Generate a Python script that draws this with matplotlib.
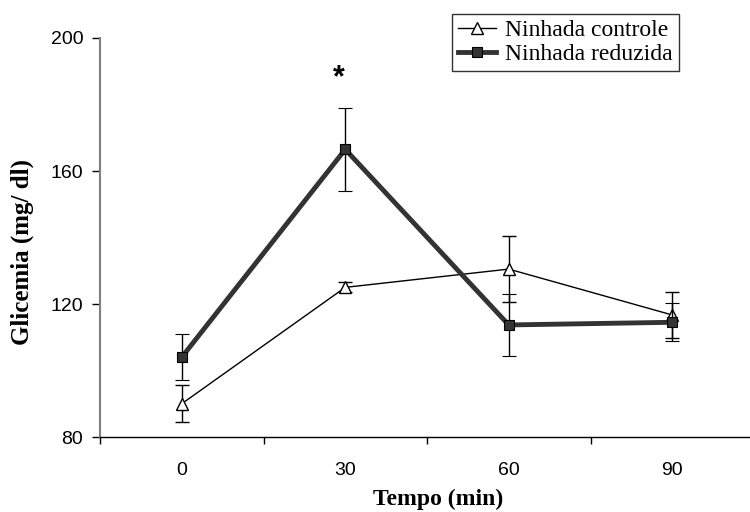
import matplotlib
matplotlib.use('Agg')
import matplotlib.pyplot as plt
from matplotlib.lines import Line2D
import numpy as np

# glicemia ao longo do teste de tolerância à glicose
tempos = ['0', '30', '60', '90']
controle_media = [90.0, 125.0, 130.5, 116.7]
controle_erro = [5.5, 1.5, 10.0, 7.0]
reduzida_media = [104.0, 166.5, 113.7, 114.5]
reduzida_erro = [7.0, 12.5, 9.3, 5.7]

serif = ['Liberation Serif', 'DejaVu Serif']
sans = ['Liberation Sans', 'DejaVu Sans']

fig = plt.figure(figsize=(7.5, 5.12), dpi=100)
ax = fig.add_axes([100 / 750, 75 / 512, 654 / 750, 399 / 512])

x = np.arange(len(tempos))

estilo_controle = dict(color='black', lw=1, marker='^', ms=8,
                       mfc='white', mec='black', mew=1)
estilo_reduzida = dict(color='#333333', lw=3.5, marker='s', ms=7,
                       mfc='#333333', mec='black', mew=0.8)

ax.errorbar(x, controle_media, yerr=controle_erro, ecolor='black',
            elinewidth=1, capsize=5, capthick=1, zorder=3, **estilo_controle)
ax.errorbar(x, reduzida_media, yerr=reduzida_erro, ecolor='black',
            elinewidth=1, capsize=5, capthick=1, zorder=4, **estilo_reduzida)

# diferença significativa aos 30 min
ax.text(0.96, 188, '*', ha='center', va='center', fontsize=22,
        fontweight='bold', family=sans)

ax.set_xlim(-0.5, len(tempos) - 0.5)
ax.set_ylim(80, 200)
ax.set_yticks([80, 120, 160, 200])
ax.set_yticklabels(['80', '120', '160', '200'], family=sans, fontsize=14)

# marcas entre categorias, rótulos no centro
ax.set_xticks(np.arange(-0.5, len(tempos) + 0.5, 1.0))
ax.set_xticklabels([])
ax.set_xticks(x, minor=True)
ax.set_xticklabels(tempos, minor=True, family=sans, fontsize=14)
ax.tick_params(axis='x', which='major', direction='out', length=5, width=1)
ax.tick_params(axis='x', which='minor', length=0, pad=18)
ax.tick_params(axis='y', direction='out', length=6, width=1, pad=6)

for side in ['top', 'right']:
    ax.spines[side].set_visible(False)
ax.spines['left'].set_color('#808080')
ax.spines['left'].set_linewidth(1.5)
ax.spines['bottom'].set_color('black')
ax.spines['bottom'].set_linewidth(1)

ax.set_xlabel('Tempo (min)', family=serif, fontweight='bold', fontsize=17,
              va='center')
ax.set_ylabel('Glicemia (mg/ dl)', family=serif, fontweight='bold',
              fontsize=18, va='center')
ax.xaxis.set_label_coords((438 - 100) / 654, -(499 - 437) / 399)
ax.yaxis.set_label_coords(-(100 - 22) / 654, (437 - 252) / 399)

handles = [Line2D([], [], **estilo_controle), Line2D([], [], **estilo_reduzida)]
leg = fig.legend(handles, ['Ninhada controle', 'Ninhada reduzida'],
                 loc='upper left', bbox_to_anchor=(452 / 750, 1 - 14 / 512),
                 borderaxespad=0, frameon=True, fancybox=False,
                 edgecolor='black', prop={'family': serif, 'size': 17},
                 handlelength=1.6, handletextpad=0.4, borderpad=0.25,
                 labelspacing=0.1)
leg.get_frame().set_linewidth(1)

fig.savefig('out.png', dpi=100, facecolor='white')
